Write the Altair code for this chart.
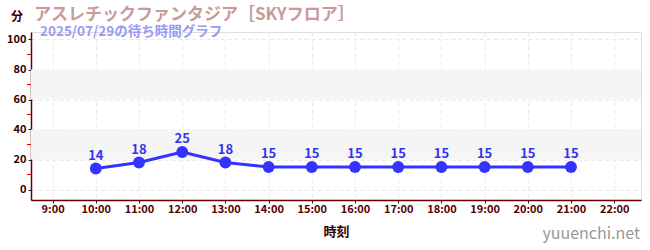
import altair as alt
import pandas as pd

hours = [10, 11, 12, 13, 14, 15, 16, 17, 18, 19, 20, 21]
waits = [14, 18, 25, 18, 15, 15, 15, 15, 15, 15, 15, 15]
x_ticks = list(range(9, 23))
y_ticks = [0, 20, 40, 60, 80, 100]
minor_ticks = [10, 30, 50, 70, 90]
band_lo = [20, 60]
band_hi = [40, 80]

title_text = "アスレチックファンタジア［SKYフロア］"
subtitle_text = "2025/07/29の待ち時間グラフ"
FONT = "Noto Sans CJK JP"

df = pd.DataFrame({"hour": hours, "wait": waits})
bands = pd.DataFrame({"lo": band_lo, "hi": band_hi})
minors = pd.DataFrame({"v": minor_ticks})

xscale = alt.Scale(domain=[8.5, 22.62], nice=False, zero=False)
yscale = alt.Scale(domain=[-7, 105], nice=False, zero=False)

xaxis = alt.Axis(values=x_ticks, labelExpr="datum.value + ':00'", title="時刻",
                 grid=True, gridDash=[4, 3], gridColor="#e8e8e8", labelOverlap=False,
                 domainColor="#660000", domainWidth=1.5, tickColor="#222222", tickSize=3,
                 labelColor="#550000", labelFont=FONT, labelFontSize=11, labelFontWeight="bold",
                 titleColor="#330000", titleFont=FONT, titleFontSize=13, titleFontWeight="bold",
                 titlePadding=11, labelPadding=0)
yaxis = alt.Axis(values=y_ticks, title=None, grid=True, gridDash=[4, 3], gridColor="#e8e8e8",
                 labelOverlap=False,
                 domainColor="#660000", domainWidth=1.5, tickColor="#222222", tickSize=3,
                 labelColor="#330000", labelFont=FONT, labelFontSize=11, labelFontWeight="bold",
                 labelPadding=2)

X = alt.X("hour:Q", scale=xscale, axis=xaxis)
Y = alt.Y("wait:Q", scale=yscale, axis=yaxis)

band_layer = alt.Chart(bands).mark_rect(color="#f5f5f5").encode(
    y=alt.Y("lo:Q", scale=yscale, axis=yaxis),
    y2="hi:Q",
    x=alt.value(0), x2=alt.value(610),
)

minor_layer = alt.Chart(minors).mark_rule(color="#dd0000", strokeWidth=1).encode(
    y=alt.Y("v:Q", scale=yscale, axis=yaxis),
    x=alt.value(-4), x2=alt.value(0),
)

line = alt.Chart(df).mark_line(color="#3333ff", strokeWidth=3).encode(x=X, y=Y)
pts = alt.Chart(df).mark_circle(color="#3333ff", size=140, opacity=1).encode(x=X, y=Y)
lbl = alt.Chart(df).mark_text(color="#3333ee", font=FONT, fontSize=13, fontWeight="bold",
                              dy=-13).encode(x=X, y=Y, text="wait:Q")

texts = pd.DataFrame({"t": [0]})
title_l = alt.Chart(texts).mark_text(text=title_text, align="left", baseline="alphabetic",
                                     font=FONT, fontSize=17, fontWeight="bold",
                                     color="#c89a9a").encode(x=alt.value(3), y=alt.value(-12))
sub_l = alt.Chart(texts).mark_text(text=subtitle_text, align="left", baseline="alphabetic",
                                   font=FONT, fontSize=13.5, fontWeight="bold",
                                   color="#9a9af5").encode(x=alt.value(9), y=alt.value(4))
fun_l = alt.Chart(texts).mark_text(text="分", align="center", baseline="alphabetic",
                                   font=FONT, fontSize=12, fontWeight="bold",
                                   color="#330000").encode(x=alt.value(-14), y=alt.value(-11))
site_l = alt.Chart(texts).mark_text(text="yuuenchi.net", align="right", baseline="alphabetic",
                                    font=FONT, fontSize=16, fontWeight="normal",
                                    color="#999999").encode(x=alt.value(609), y=alt.value(207))

chart = alt.layer(band_layer, minor_layer, line, pts, lbl, title_l, sub_l, fun_l, site_l).properties(
    width=610, height=168,
    autosize=alt.AutoSizeParams(type="none"),
    padding={"left": 31, "top": 32, "right": 9, "bottom": 50},
).configure_view(stroke=None).configure(background="white")

chart.save("out.html", embed_options={"renderer": "svg", "actions": False})
